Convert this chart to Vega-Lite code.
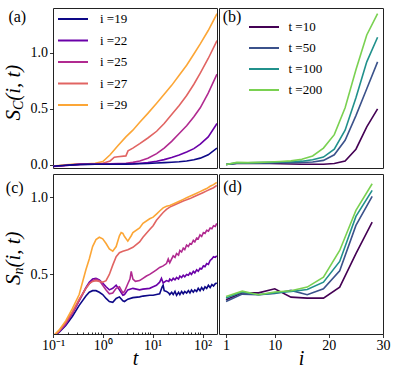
{
  "$schema": "https://vega.github.io/schema/vega-lite/v6.json",
  "padding": {"left": 2, "top": 7, "right": 4, "bottom": 1},
  "background": "white",
  "columns": 2,
  "spacing": 0,
  "datasets": {
    "a": [
      {"s":"i =29","t":0.1,"v":-0.01},{"s":"i =29","t":0.13,"v":-0.005},{"s":"i =29","t":0.18,"v":0.0},{"s":"i =29","t":0.25,"v":0.005},{"s":"i =29","t":0.35,"v":0.008},{"s":"i =29","t":0.5,"v":0.01},{"s":"i =29","t":0.7,"v":0.015},{"s":"i =29","t":1.0,"v":0.03},{"s":"i =29","t":1.4,"v":0.09},{"s":"i =29","t":2,"v":0.17},{"s":"i =29","t":2.9,"v":0.25},{"s":"i =29","t":4,"v":0.31},{"s":"i =29","t":5.5,"v":0.38},{"s":"i =29","t":8,"v":0.46},{"s":"i =29","t":12,"v":0.55},{"s":"i =29","t":17,"v":0.63},{"s":"i =29","t":24,"v":0.71},{"s":"i =29","t":34,"v":0.8},{"s":"i =29","t":48,"v":0.89},{"s":"i =29","t":67,"v":0.99},{"s":"i =29","t":90,"v":1.08},{"s":"i =29","t":130,"v":1.2},{"s":"i =29","t":195,"v":1.35},
      {"s":"i =27","t":0.1,"v":-0.012},{"s":"i =27","t":0.13,"v":-0.008},{"s":"i =27","t":0.18,"v":-0.003},{"s":"i =27","t":0.25,"v":0.002},{"s":"i =27","t":0.35,"v":0.005},{"s":"i =27","t":0.5,"v":0.007},{"s":"i =27","t":0.7,"v":0.01},{"s":"i =27","t":1.0,"v":0.015},{"s":"i =27","t":1.4,"v":0.035},{"s":"i =27","t":1.7,"v":0.068},{"s":"i =27","t":2,"v":0.072},{"s":"i =27","t":2.9,"v":0.08},{"s":"i =27","t":3.2,"v":0.125},{"s":"i =27","t":4,"v":0.15},{"s":"i =27","t":5.5,"v":0.19},{"s":"i =27","t":8,"v":0.24},{"s":"i =27","t":12,"v":0.3},{"s":"i =27","t":17,"v":0.37},{"s":"i =27","t":24,"v":0.45},{"s":"i =27","t":34,"v":0.53},{"s":"i =27","t":48,"v":0.62},{"s":"i =27","t":67,"v":0.72},{"s":"i =27","t":90,"v":0.82},{"s":"i =27","t":130,"v":0.95},{"s":"i =27","t":195,"v":1.11},
      {"s":"i =25","t":0.1,"v":-0.015},{"s":"i =25","t":0.13,"v":-0.012},{"s":"i =25","t":0.18,"v":-0.006},{"s":"i =25","t":0.25,"v":0.0},{"s":"i =25","t":0.35,"v":0.004},{"s":"i =25","t":0.5,"v":0.005},{"s":"i =25","t":0.7,"v":0.006},{"s":"i =25","t":1.0,"v":0.008},{"s":"i =25","t":1.4,"v":0.01},{"s":"i =25","t":2,"v":0.012},{"s":"i =25","t":2.9,"v":0.015},{"s":"i =25","t":4,"v":0.022},{"s":"i =25","t":5.5,"v":0.035},{"s":"i =25","t":8,"v":0.06},{"s":"i =25","t":12,"v":0.1},{"s":"i =25","t":17,"v":0.15},{"s":"i =25","t":24,"v":0.21},{"s":"i =25","t":34,"v":0.28},{"s":"i =25","t":48,"v":0.35},{"s":"i =25","t":67,"v":0.43},{"s":"i =25","t":90,"v":0.51},{"s":"i =25","t":130,"v":0.64},{"s":"i =25","t":195,"v":0.81},
      {"s":"i =22","t":0.1,"v":-0.015},{"s":"i =22","t":0.13,"v":-0.01},{"s":"i =22","t":0.18,"v":-0.005},{"s":"i =22","t":0.25,"v":0.0},{"s":"i =22","t":0.35,"v":0.004},{"s":"i =22","t":0.5,"v":0.005},{"s":"i =22","t":0.7,"v":0.005},{"s":"i =22","t":1.0,"v":0.006},{"s":"i =22","t":1.4,"v":0.006},{"s":"i =22","t":2,"v":0.007},{"s":"i =22","t":2.9,"v":0.008},{"s":"i =22","t":4,"v":0.01},{"s":"i =22","t":5.5,"v":0.014},{"s":"i =22","t":8,"v":0.02},{"s":"i =22","t":12,"v":0.033},{"s":"i =22","t":17,"v":0.047},{"s":"i =22","t":24,"v":0.065},{"s":"i =22","t":34,"v":0.088},{"s":"i =22","t":48,"v":0.115},{"s":"i =22","t":67,"v":0.145},{"s":"i =22","t":90,"v":0.185},{"s":"i =22","t":130,"v":0.25},{"s":"i =22","t":195,"v":0.37},
      {"s":"i =19","t":0.1,"v":-0.012},{"s":"i =19","t":0.13,"v":-0.008},{"s":"i =19","t":0.18,"v":-0.004},{"s":"i =19","t":0.25,"v":0.0},{"s":"i =19","t":0.35,"v":0.003},{"s":"i =19","t":0.5,"v":0.004},{"s":"i =19","t":0.7,"v":0.005},{"s":"i =19","t":1.0,"v":0.005},{"s":"i =19","t":1.4,"v":0.006},{"s":"i =19","t":2,"v":0.006},{"s":"i =19","t":2.9,"v":0.007},{"s":"i =19","t":4,"v":0.008},{"s":"i =19","t":5.5,"v":0.01},{"s":"i =19","t":8,"v":0.012},{"s":"i =19","t":12,"v":0.016},{"s":"i =19","t":17,"v":0.02},{"s":"i =19","t":24,"v":0.024},{"s":"i =19","t":34,"v":0.028},{"s":"i =19","t":48,"v":0.035},{"s":"i =19","t":67,"v":0.045},{"s":"i =19","t":90,"v":0.06},{"s":"i =19","t":130,"v":0.09},{"s":"i =19","t":195,"v":0.15}
    ],
    "b": [
      {"s":"t =10","i":1,"v":0.003},{"s":"t =10","i":3,"v":0.012},{"s":"t =10","i":5,"v":0.012},{"s":"t =10","i":7,"v":0.013},{"s":"t =10","i":9,"v":0.012},{"s":"t =10","i":11,"v":0.01},{"s":"t =10","i":13,"v":0.008},{"s":"t =10","i":15,"v":0.006},{"s":"t =10","i":17,"v":0.005},{"s":"t =10","i":19,"v":0.006},{"s":"t =10","i":21,"v":0.012},{"s":"t =10","i":23,"v":0.035},{"s":"t =10","i":25,"v":0.14},{"s":"t =10","i":27,"v":0.34},{"s":"t =10","i":29,"v":0.5},
      {"s":"t =50","i":1,"v":0.003},{"s":"t =50","i":3,"v":0.015},{"s":"t =50","i":5,"v":0.016},{"s":"t =50","i":7,"v":0.018},{"s":"t =50","i":9,"v":0.018},{"s":"t =50","i":11,"v":0.02},{"s":"t =50","i":13,"v":0.02},{"s":"t =50","i":15,"v":0.022},{"s":"t =50","i":17,"v":0.025},{"s":"t =50","i":19,"v":0.04},{"s":"t =50","i":21,"v":0.09},{"s":"t =50","i":23,"v":0.22},{"s":"t =50","i":25,"v":0.44},{"s":"t =50","i":27,"v":0.68},{"s":"t =50","i":29,"v":0.92},
      {"s":"t =100","i":1,"v":0.003},{"s":"t =100","i":3,"v":0.018},{"s":"t =100","i":5,"v":0.018},{"s":"t =100","i":7,"v":0.02},{"s":"t =100","i":9,"v":0.022},{"s":"t =100","i":11,"v":0.025},{"s":"t =100","i":13,"v":0.028},{"s":"t =100","i":15,"v":0.033},{"s":"t =100","i":17,"v":0.045},{"s":"t =100","i":19,"v":0.07},{"s":"t =100","i":21,"v":0.14},{"s":"t =100","i":23,"v":0.31},{"s":"t =100","i":25,"v":0.6},{"s":"t =100","i":27,"v":0.92},{"s":"t =100","i":29,"v":1.14},
      {"s":"t =200","i":1,"v":0.003},{"s":"t =200","i":3,"v":0.022},{"s":"t =200","i":5,"v":0.02},{"s":"t =200","i":7,"v":0.022},{"s":"t =200","i":9,"v":0.025},{"s":"t =200","i":11,"v":0.03},{"s":"t =200","i":13,"v":0.036},{"s":"t =200","i":15,"v":0.05},{"s":"t =200","i":17,"v":0.08},{"s":"t =200","i":19,"v":0.15},{"s":"t =200","i":21,"v":0.27},{"s":"t =200","i":23,"v":0.51},{"s":"t =200","i":25,"v":0.85},{"s":"t =200","i":27,"v":1.16},{"s":"t =200","i":29,"v":1.35}
    ],
    "c": [
      {"s":"i =19","t":0.1,"v":0.1},{"s":"i =19","t":0.132,"v":0.125},{"s":"i =19","t":0.18,"v":0.17},{"s":"i =19","t":0.246,"v":0.23},{"s":"i =19","t":0.335,"v":0.3},{"s":"i =19","t":0.457,"v":0.36},{"s":"i =19","t":0.534,"v":0.385},{"s":"i =19","t":0.623,"v":0.395},{"s":"i =19","t":0.728,"v":0.395},{"s":"i =19","t":0.85,"v":0.385},{"s":"i =19","t":0.993,"v":0.37},{"s":"i =19","t":1.16,"v":0.345},{"s":"i =19","t":1.35,"v":0.325},{"s":"i =19","t":1.58,"v":0.32},{"s":"i =19","t":1.85,"v":0.345},{"s":"i =19","t":2.15,"v":0.355},{"s":"i =19","t":2.52,"v":0.33},{"s":"i =19","t":2.72,"v":0.325},{"s":"i =19","t":3.17,"v":0.34},{"s":"i =19","t":4.01,"v":0.35},{"s":"i =19","t":5.46,"v":0.355},{"s":"i =19","t":6.38,"v":0.36},{"s":"i =19","t":8.7,"v":0.365},{"s":"i =19","t":10.2,"v":0.365},{"s":"i =19","t":11.9,"v":0.37},{"s":"i =19","t":13.8,"v":0.375},{"s":"i =19","t":15.5,"v":0.42},{"s":"i =19","t":16.2,"v":0.43},{"s":"i =19","t":17,"v":0.395},{"s":"i =19","t":18.9,"v":0.39},{"s":"i =19","t":21,"v":0.38},{"s":"i =19","t":22,"v":0.37},{"s":"i =19","t":24,"v":0.385},{"s":"i =19","t":25.8,"v":0.37},{"s":"i =19","t":28,"v":0.39},{"s":"i =19","t":30.1,"v":0.365},{"s":"i =19","t":33,"v":0.385},{"s":"i =19","t":35.1,"v":0.37},{"s":"i =19","t":38,"v":0.39},{"s":"i =19","t":41,"v":0.375},{"s":"i =19","t":44,"v":0.39},{"s":"i =19","t":47.9,"v":0.38},{"s":"i =19","t":52,"v":0.395},{"s":"i =19","t":55.9,"v":0.38},{"s":"i =19","t":60,"v":0.4},{"s":"i =19","t":65.3,"v":0.385},{"s":"i =19","t":70,"v":0.4},{"s":"i =19","t":76.2,"v":0.39},{"s":"i =19","t":82,"v":0.41},{"s":"i =19","t":89,"v":0.395},{"s":"i =19","t":96,"v":0.415},{"s":"i =19","t":104,"v":0.4},{"s":"i =19","t":112,"v":0.42},{"s":"i =19","t":121,"v":0.41},{"s":"i =19","t":131,"v":0.43},{"s":"i =19","t":142,"v":0.415},{"s":"i =19","t":154,"v":0.435},{"s":"i =19","t":166,"v":0.425},{"s":"i =19","t":180,"v":0.44},{"s":"i =19","t":193,"v":0.445},
      {"s":"i =22","t":0.1,"v":0.1},{"s":"i =22","t":0.132,"v":0.13},{"s":"i =22","t":0.18,"v":0.18},{"s":"i =22","t":0.246,"v":0.25},{"s":"i =22","t":0.335,"v":0.33},{"s":"i =22","t":0.457,"v":0.415},{"s":"i =22","t":0.534,"v":0.45},{"s":"i =22","t":0.623,"v":0.47},{"s":"i =22","t":0.728,"v":0.475},{"s":"i =22","t":0.85,"v":0.465},{"s":"i =22","t":0.993,"v":0.445},{"s":"i =22","t":1.16,"v":0.42},{"s":"i =22","t":1.35,"v":0.4},{"s":"i =22","t":1.58,"v":0.41},{"s":"i =22","t":1.85,"v":0.43},{"s":"i =22","t":2.15,"v":0.4},{"s":"i =22","t":2.52,"v":0.365},{"s":"i =22","t":2.72,"v":0.37},{"s":"i =22","t":3.17,"v":0.4},{"s":"i =22","t":4.01,"v":0.41},{"s":"i =22","t":5.46,"v":0.4},{"s":"i =22","t":6.38,"v":0.405},{"s":"i =22","t":8.7,"v":0.41},{"s":"i =22","t":10.2,"v":0.42},{"s":"i =22","t":11.9,"v":0.43},{"s":"i =22","t":13.8,"v":0.45},{"s":"i =22","t":15,"v":0.475},{"s":"i =22","t":16.2,"v":0.445},{"s":"i =22","t":18.9,"v":0.46},{"s":"i =22","t":21,"v":0.455},{"s":"i =22","t":22,"v":0.47},{"s":"i =22","t":24,"v":0.46},{"s":"i =22","t":25.8,"v":0.475},{"s":"i =22","t":28,"v":0.465},{"s":"i =22","t":30.1,"v":0.48},{"s":"i =22","t":33,"v":0.47},{"s":"i =22","t":35.1,"v":0.49},{"s":"i =22","t":38,"v":0.48},{"s":"i =22","t":41,"v":0.495},{"s":"i =22","t":44,"v":0.485},{"s":"i =22","t":47.9,"v":0.5},{"s":"i =22","t":52,"v":0.495},{"s":"i =22","t":55.9,"v":0.51},{"s":"i =22","t":60,"v":0.5},{"s":"i =22","t":65.3,"v":0.52},{"s":"i =22","t":70,"v":0.51},{"s":"i =22","t":76.2,"v":0.53},{"s":"i =22","t":82,"v":0.52},{"s":"i =22","t":89,"v":0.54},{"s":"i =22","t":96,"v":0.535},{"s":"i =22","t":104,"v":0.555},{"s":"i =22","t":112,"v":0.55},{"s":"i =22","t":121,"v":0.57},{"s":"i =22","t":131,"v":0.565},{"s":"i =22","t":142,"v":0.59},{"s":"i =22","t":154,"v":0.6},{"s":"i =22","t":166,"v":0.615},{"s":"i =22","t":180,"v":0.61},{"s":"i =22","t":193,"v":0.62},
      {"s":"i =25","t":0.1,"v":0.1},{"s":"i =25","t":0.132,"v":0.13},{"s":"i =25","t":0.18,"v":0.18},{"s":"i =25","t":0.246,"v":0.25},{"s":"i =25","t":0.335,"v":0.33},{"s":"i =25","t":0.457,"v":0.41},{"s":"i =25","t":0.534,"v":0.44},{"s":"i =25","t":0.623,"v":0.46},{"s":"i =25","t":0.728,"v":0.47},{"s":"i =25","t":0.85,"v":0.46},{"s":"i =25","t":0.993,"v":0.43},{"s":"i =25","t":1.16,"v":0.4},{"s":"i =25","t":1.35,"v":0.375},{"s":"i =25","t":1.58,"v":0.38},{"s":"i =25","t":1.85,"v":0.41},{"s":"i =25","t":2.15,"v":0.42},{"s":"i =25","t":2.33,"v":0.4},{"s":"i =25","t":2.52,"v":0.38},{"s":"i =25","t":2.72,"v":0.39},{"s":"i =25","t":3.17,"v":0.44},{"s":"i =25","t":3.5,"v":0.47},{"s":"i =25","t":3.71,"v":0.52},{"s":"i =25","t":4.01,"v":0.47},{"s":"i =25","t":4.5,"v":0.455},{"s":"i =25","t":5.46,"v":0.46},{"s":"i =25","t":6.38,"v":0.475},{"s":"i =25","t":7.5,"v":0.49},{"s":"i =25","t":8.7,"v":0.5},{"s":"i =25","t":10.2,"v":0.515},{"s":"i =25","t":11.9,"v":0.53},{"s":"i =25","t":13.8,"v":0.545},{"s":"i =25","t":16.2,"v":0.555},{"s":"i =25","t":18.9,"v":0.57},{"s":"i =25","t":20.5,"v":0.6},{"s":"i =25","t":22,"v":0.575},{"s":"i =25","t":24,"v":0.6},{"s":"i =25","t":25.8,"v":0.62},{"s":"i =25","t":28,"v":0.61},{"s":"i =25","t":30.1,"v":0.635},{"s":"i =25","t":33,"v":0.625},{"s":"i =25","t":35.1,"v":0.655},{"s":"i =25","t":38,"v":0.645},{"s":"i =25","t":41,"v":0.67},{"s":"i =25","t":44,"v":0.66},{"s":"i =25","t":47.9,"v":0.69},{"s":"i =25","t":52,"v":0.68},{"s":"i =25","t":55.9,"v":0.7},{"s":"i =25","t":60,"v":0.695},{"s":"i =25","t":65.3,"v":0.72},{"s":"i =25","t":70,"v":0.71},{"s":"i =25","t":76.2,"v":0.735},{"s":"i =25","t":82,"v":0.73},{"s":"i =25","t":89,"v":0.755},{"s":"i =25","t":96,"v":0.745},{"s":"i =25","t":104,"v":0.77},{"s":"i =25","t":112,"v":0.765},{"s":"i =25","t":121,"v":0.785},{"s":"i =25","t":131,"v":0.78},{"s":"i =25","t":142,"v":0.8},{"s":"i =25","t":154,"v":0.795},{"s":"i =25","t":166,"v":0.815},{"s":"i =25","t":180,"v":0.81},{"s":"i =25","t":193,"v":0.83},
      {"s":"i =27","t":0.1,"v":0.1},{"s":"i =27","t":0.132,"v":0.135},{"s":"i =27","t":0.18,"v":0.19},{"s":"i =27","t":0.246,"v":0.26},{"s":"i =27","t":0.335,"v":0.34},{"s":"i =27","t":0.457,"v":0.41},{"s":"i =27","t":0.534,"v":0.44},{"s":"i =27","t":0.623,"v":0.455},{"s":"i =27","t":0.728,"v":0.46},{"s":"i =27","t":0.85,"v":0.455},{"s":"i =27","t":0.993,"v":0.45},{"s":"i =27","t":1.16,"v":0.46},{"s":"i =27","t":1.35,"v":0.5},{"s":"i =27","t":1.58,"v":0.56},{"s":"i =27","t":1.85,"v":0.615},{"s":"i =27","t":2.15,"v":0.64},{"s":"i =27","t":2.52,"v":0.65},{"s":"i =27","t":3.17,"v":0.66},{"s":"i =27","t":4.01,"v":0.675},{"s":"i =27","t":5.46,"v":0.71},{"s":"i =27","t":6.38,"v":0.74},{"s":"i =27","t":8.7,"v":0.79},{"s":"i =27","t":10.2,"v":0.815},{"s":"i =27","t":11.9,"v":0.85},{"s":"i =27","t":13.8,"v":0.875},{"s":"i =27","t":16.2,"v":0.9},{"s":"i =27","t":18.9,"v":0.92},{"s":"i =27","t":22,"v":0.935},{"s":"i =27","t":25.8,"v":0.945},{"s":"i =27","t":30.1,"v":0.955},{"s":"i =27","t":35.1,"v":0.965},{"s":"i =27","t":41,"v":0.975},{"s":"i =27","t":47.9,"v":0.982},{"s":"i =27","t":55.9,"v":0.99},{"s":"i =27","t":65.3,"v":1.0},{"s":"i =27","t":76.2,"v":1.01},{"s":"i =27","t":89,"v":1.02},{"s":"i =27","t":104,"v":1.03},{"s":"i =27","t":121,"v":1.04},{"s":"i =27","t":142,"v":1.05},{"s":"i =27","t":166,"v":1.06},{"s":"i =27","t":193,"v":1.075},
      {"s":"i =29","t":0.1,"v":0.1},{"s":"i =29","t":0.132,"v":0.14},{"s":"i =29","t":0.18,"v":0.2},{"s":"i =29","t":0.246,"v":0.28},{"s":"i =29","t":0.335,"v":0.37},{"s":"i =29","t":0.457,"v":0.53},{"s":"i =29","t":0.534,"v":0.6},{"s":"i =29","t":0.623,"v":0.68},{"s":"i =29","t":0.728,"v":0.725},{"s":"i =29","t":0.85,"v":0.74},{"s":"i =29","t":0.993,"v":0.73},{"s":"i =29","t":1.16,"v":0.7},{"s":"i =29","t":1.35,"v":0.665},{"s":"i =29","t":1.58,"v":0.65},{"s":"i =29","t":1.85,"v":0.68},{"s":"i =29","t":2.15,"v":0.75},{"s":"i =29","t":2.33,"v":0.77},{"s":"i =29","t":2.52,"v":0.765},{"s":"i =29","t":2.72,"v":0.745},{"s":"i =29","t":3.17,"v":0.715},{"s":"i =29","t":3.71,"v":0.75},{"s":"i =29","t":4.01,"v":0.77},{"s":"i =29","t":5.46,"v":0.8},{"s":"i =29","t":6.38,"v":0.83},{"s":"i =29","t":8.7,"v":0.86},{"s":"i =29","t":10.2,"v":0.87},{"s":"i =29","t":11.9,"v":0.89},{"s":"i =29","t":13.8,"v":0.91},{"s":"i =29","t":16.2,"v":0.93},{"s":"i =29","t":18.9,"v":0.94},{"s":"i =29","t":22,"v":0.945},{"s":"i =29","t":25.8,"v":0.955},{"s":"i =29","t":30.1,"v":0.965},{"s":"i =29","t":35.1,"v":0.975},{"s":"i =29","t":41,"v":0.985},{"s":"i =29","t":47.9,"v":0.995},{"s":"i =29","t":55.9,"v":1.005},{"s":"i =29","t":65.3,"v":1.015},{"s":"i =29","t":76.2,"v":1.025},{"s":"i =29","t":89,"v":1.035},{"s":"i =29","t":104,"v":1.045},{"s":"i =29","t":121,"v":1.055},{"s":"i =29","t":142,"v":1.07},{"s":"i =29","t":166,"v":1.08},{"s":"i =29","t":193,"v":1.095}
    ],
    "d": [
      {"s":"t =10","i":1,"v":0.336},{"s":"t =10","i":4,"v":0.381},{"s":"t =10","i":7,"v":0.381},{"s":"t =10","i":10,"v":0.407},{"s":"t =10","i":13,"v":0.353},{"s":"t =10","i":16,"v":0.347},{"s":"t =10","i":19,"v":0.347},{"s":"t =10","i":22,"v":0.418},{"s":"t =10","i":25,"v":0.634},{"s":"t =10","i":28,"v":0.838},
      {"s":"t =50","i":1,"v":0.325},{"s":"t =50","i":4,"v":0.373},{"s":"t =50","i":7,"v":0.369},{"s":"t =50","i":10,"v":0.377},{"s":"t =50","i":13,"v":0.397},{"s":"t =50","i":16,"v":0.369},{"s":"t =50","i":19,"v":0.407},{"s":"t =50","i":22,"v":0.524},{"s":"t =50","i":25,"v":0.817},{"s":"t =50","i":28,"v":1.004},
      {"s":"t =100","i":1,"v":0.347},{"s":"t =100","i":4,"v":0.386},{"s":"t =100","i":7,"v":0.369},{"s":"t =100","i":10,"v":0.381},{"s":"t =100","i":13,"v":0.39},{"s":"t =100","i":16,"v":0.403},{"s":"t =100","i":19,"v":0.45},{"s":"t =100","i":22,"v":0.584},{"s":"t =100","i":25,"v":0.875},{"s":"t =100","i":28,"v":1.043},
      {"s":"t =200","i":1,"v":0.358},{"s":"t =200","i":4,"v":0.392},{"s":"t =200","i":7,"v":0.369},{"s":"t =200","i":10,"v":0.386},{"s":"t =200","i":13,"v":0.394},{"s":"t =200","i":16,"v":0.418},{"s":"t =200","i":19,"v":0.483},{"s":"t =200","i":22,"v":0.655},{"s":"t =200","i":25,"v":0.914},{"s":"t =200","i":28,"v":1.086}
    ]
  },
  "concat": [
    {
      "width": 164, "height": 160,
      "resolve": {"axis": {"x": "independent", "y": "independent"}},
      "layer": [
        {
          "data": {"name": "a"},
          "mark": {"type": "line", "clip": true, "strokeWidth": 1.6},
          "encoding": {
            "x": {"field": "t", "type": "quantitative", "scale": {"type": "log", "domain": [0.1, 195], "nice": false}, "axis": null},
            "y": {"field": "v", "type": "quantitative", "scale": {"domain": [-0.028, 1.401], "nice": false, "zero": false}, "axis": {"values": [0, 0.5, 1], "format": ".1f", "title": null}},
            "color": {"field": "s", "type": "nominal",
              "scale": {"domain": ["i =19", "i =22", "i =25", "i =27", "i =29"], "range": ["#0d0887", "#6a00a8", "#b12a90", "#e16462", "#fca636"]},
              "legend": {"orient": "none", "legendX": 13.5, "legendY": 4.5, "labelOffset": 20.5}}
          }
        },
        {"data": {"values": [{}]}, "mark": {"type": "text", "fontSize": 16, "align": "center", "baseline": "middle"},
          "encoding": {"x": {"datum": 0.0192, "axis": null}, "y": {"datum": 1.324, "axis": null}, "text": {"value": "(a)"}}},
        {"data": {"values": [{}]}, "mark": {"type": "text", "fontSize": 21, "fontStyle": "italic", "angle": 270, "align": "left", "baseline": "alphabetic"},
          "encoding": {"x": {"datum": 0.02154, "axis": null}, "y": {"datum": 0.3955, "axis": null}, "text": {"value": "S"}}},
        {"data": {"values": [{}]}, "mark": {"type": "text", "fontSize": 14, "fontStyle": "italic", "angle": 270, "align": "left", "baseline": "alphabetic"},
          "encoding": {"x": {"datum": 0.0248, "axis": null}, "y": {"datum": 0.489, "axis": null}, "text": {"value": "C"}}},
        {"data": {"values": [{}]}, "mark": {"type": "text", "fontSize": 21, "fontStyle": "italic", "angle": 270, "align": "left", "baseline": "alphabetic"},
          "encoding": {"x": {"datum": 0.02154, "axis": null}, "y": {"datum": 0.572, "axis": null}, "text": {"value": "(i, t)"}}}
      ]
    },
    {
      "width": 164, "height": 160,
      "resolve": {"axis": {"x": "independent", "y": "independent"}},
      "layer": [
        {
          "data": {"name": "b"},
          "mark": {"type": "line", "clip": true, "strokeWidth": 1.6},
          "encoding": {
            "x": {"field": "i", "type": "quantitative", "scale": {"domain": [-0.3, 30], "nice": false, "zero": false}, "axis": null},
            "y": {"field": "v", "type": "quantitative", "scale": {"domain": [-0.028, 1.401], "nice": false, "zero": false}, "axis": null},
            "color": {"field": "s", "type": "nominal",
              "scale": {"domain": ["t =10", "t =50", "t =100", "t =200"], "range": ["#440154", "#3b528b", "#21918c", "#7ad151"]},
              "legend": {"orient": "none", "legendX": 38.5, "legendY": 12.5, "labelOffset": 18, "rowPadding": 7}}
          }
        },
        {"data": {"values": [{}]}, "mark": {"type": "text", "fontSize": 16, "align": "center", "baseline": "middle"},
          "encoding": {"x": {"datum": 2.11, "axis": null}, "y": {"datum": 1.324, "axis": null}, "text": {"value": "(b)"}}}
      ]
    },
    {
      "width": 164, "height": 160,
      "resolve": {"axis": {"x": "independent", "y": "independent"}},
      "layer": [
        {
          "data": {"name": "c"},
          "mark": {"type": "line", "clip": true, "strokeWidth": 1.6},
          "encoding": {
            "x": {"field": "t", "type": "quantitative", "scale": {"type": "log", "domain": [0.1, 195], "nice": false},
              "axis": {"orient": "bottom", "values": [0.1, 1, 10, 100], "labelExpr": "datum.value < 0.5 ? '10⁻¹' : datum.value < 5 ? '10⁰' : datum.value < 50 ? '10¹' : '10²'", "title": "t", "labelPadding": 1}},
            "y": {"field": "v", "type": "quantitative", "scale": {"domain": [0.115, 1.149], "nice": false, "zero": false}, "axis": {"values": [0.5, 1], "format": ".1f", "title": null}},
            "color": {"field": "s", "type": "nominal",
              "scale": {"domain": ["i =19", "i =22", "i =25", "i =27", "i =29"], "range": ["#0d0887", "#6a00a8", "#b12a90", "#e16462", "#fca636"]},
              "legend": null}
          }
        },
        {"data": {"values": [{}]}, "mark": {"type": "text", "fontSize": 16, "align": "center", "baseline": "middle"},
          "encoding": {"x": {"datum": 0.01706, "axis": {"orient": "bottom", "values": [0.2, 0.3, 0.4, 0.5, 0.6, 0.7, 0.8, 0.9, 2, 3, 4, 5, 6, 7, 8, 9, 20, 30, 40, 50, 60, 70, 80, 90], "labels": false, "tickSize": -2, "title": null}},
            "y": {"datum": 1.061, "axis": null}, "text": {"value": "(c)"}}},
        {"data": {"values": [{}]}, "mark": {"type": "text", "fontSize": 21, "fontStyle": "italic", "angle": 270, "align": "left", "baseline": "alphabetic"},
          "encoding": {"x": {"datum": 0.02154, "axis": null}, "y": {"datum": 0.431, "axis": null}, "text": {"value": "S"}}},
        {"data": {"values": [{}]}, "mark": {"type": "text", "fontSize": 14, "fontStyle": "italic", "angle": 270, "align": "left", "baseline": "alphabetic"},
          "encoding": {"x": {"datum": 0.0248, "axis": null}, "y": {"datum": 0.4988, "axis": null}, "text": {"value": "n"}}},
        {"data": {"values": [{}]}, "mark": {"type": "text", "fontSize": 21, "fontStyle": "italic", "angle": 270, "align": "left", "baseline": "alphabetic"},
          "encoding": {"x": {"datum": 0.02154, "axis": null}, "y": {"datum": 0.5443, "axis": null}, "text": {"value": "(i, t)"}}}
      ]
    },
    {
      "width": 164, "height": 160,
      "resolve": {"axis": {"x": "independent", "y": "independent"}},
      "layer": [
        {
          "data": {"name": "d"},
          "mark": {"type": "line", "clip": true, "strokeWidth": 1.6},
          "encoding": {
            "x": {"field": "i", "type": "quantitative", "scale": {"domain": [-0.3, 30], "nice": false, "zero": false}, "axis": {"values": [1, 10, 20, 30], "title": "i", "labelPadding": 1}},
            "y": {"field": "v", "type": "quantitative", "scale": {"domain": [0.115, 1.149], "nice": false, "zero": false}, "axis": null},
            "color": {"field": "s", "type": "nominal",
              "scale": {"domain": ["t =10", "t =50", "t =100", "t =200"], "range": ["#440154", "#3b528b", "#21918c", "#7ad151"]},
              "legend": null}
          }
        },
        {"data": {"values": [{}]}, "mark": {"type": "text", "fontSize": 16, "align": "center", "baseline": "middle"},
          "encoding": {"x": {"datum": 2.2, "axis": null}, "y": {"datum": 1.068, "axis": null}, "text": {"value": "(d)"}}}
      ]
    }
  ],
  "resolve": {
    "scale": {"x": "independent", "y": "independent", "color": "independent"},
    "axis": {"x": "independent", "y": "independent"},
    "legend": {"color": "independent"}
  },
  "config": {
    "view": {"stroke": "#222222", "strokeWidth": 1},
    "axis": {"domain": false, "grid": false, "labelFont": "Liberation Serif", "labelFontSize": 14, "labelColor": "black", "tickColor": "black", "tickWidth": 0.8, "tickSize": 3.5, "labelPadding": 2, "labelFlush": false, "labelOverlap": false, "titleFont": "Liberation Serif", "titleFontSize": 20, "titleFontStyle": "italic", "titleFontWeight": "normal", "titleColor": "black", "titlePadding": -4},
    "legend": {"title": null, "symbolType": "M-3,0H3", "symbolSize": 100, "symbolStrokeWidth": 2, "labelFont": "Liberation Serif", "labelFontSize": 13, "labelColor": "black", "rowPadding": 7.5, "padding": 0},
    "text": {"font": "Liberation Serif", "color": "black"}
  }
}
